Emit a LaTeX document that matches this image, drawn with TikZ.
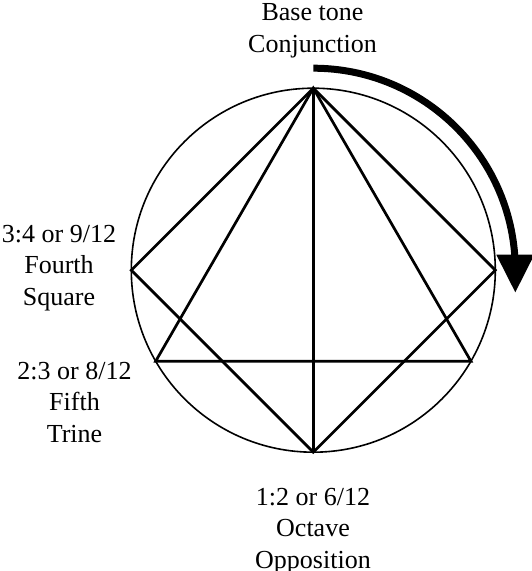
\documentclass[tikz,border=0pt]{standalone}
\usepackage{fontspec}
\setmainfont{Liberation Serif}
\usetikzlibrary{arrows.meta}
\tikzset{
  rim/.style={line width=1.6pt},
  chord/.style={line width=2.7pt},
  turn/.style={line width=7pt,-{Triangle[width=36pt,length=38pt]}},
  lbl/.style={align=center,inner sep=0pt,anchor=north,font=\fontsize{26}{31.5}\selectfont}
}
\begin{document}
\begin{tikzpicture}[x=1pt,y=1pt]
  \useasboundingbox (0,0) rectangle (531,571);
  \coordinate (c) at (313.3,300.8);
  % points on the circle
  \path (c) ++(90:182) coordinate (conj)
        (c) ++(270:182) coordinate (opp)
        (c) ++(180:182) coordinate (sqL)
        (c) ++(0:182) coordinate (sqR)
        (c) ++(210:182) coordinate (trL)
        (c) ++(330:182) coordinate (trR);
  \draw[rim] (c) circle (182);
  \draw[chord] (conj) -- (sqL) -- (opp) -- (sqR) -- cycle;
  \draw[chord] (conj) -- (trL) -- (trR) -- cycle;
  \draw[chord] (conj) -- (opp);
  % direction of travel
  \path (c) ++(90:202) coordinate (turnA);
  \draw[turn] (turnA) arc (90:0:202) -- ++(0,-22.5);
  \node[lbl] (conjlbl) at (312.5,567.7) {Base tone\\Conjunction};
  \node[lbl] (sqlbl) at (59,346) {3:4 or 9/12\\Fourth\\Square};
  \node[lbl] (trlbl) at (74.5,209.3) {2:3 or 8/12\\Fifth\\Trine};
  \node[lbl] (opplbl) at (313,83) {1:2 or 6/12\\Octave\\Opposition};
\end{tikzpicture}
\end{document}
